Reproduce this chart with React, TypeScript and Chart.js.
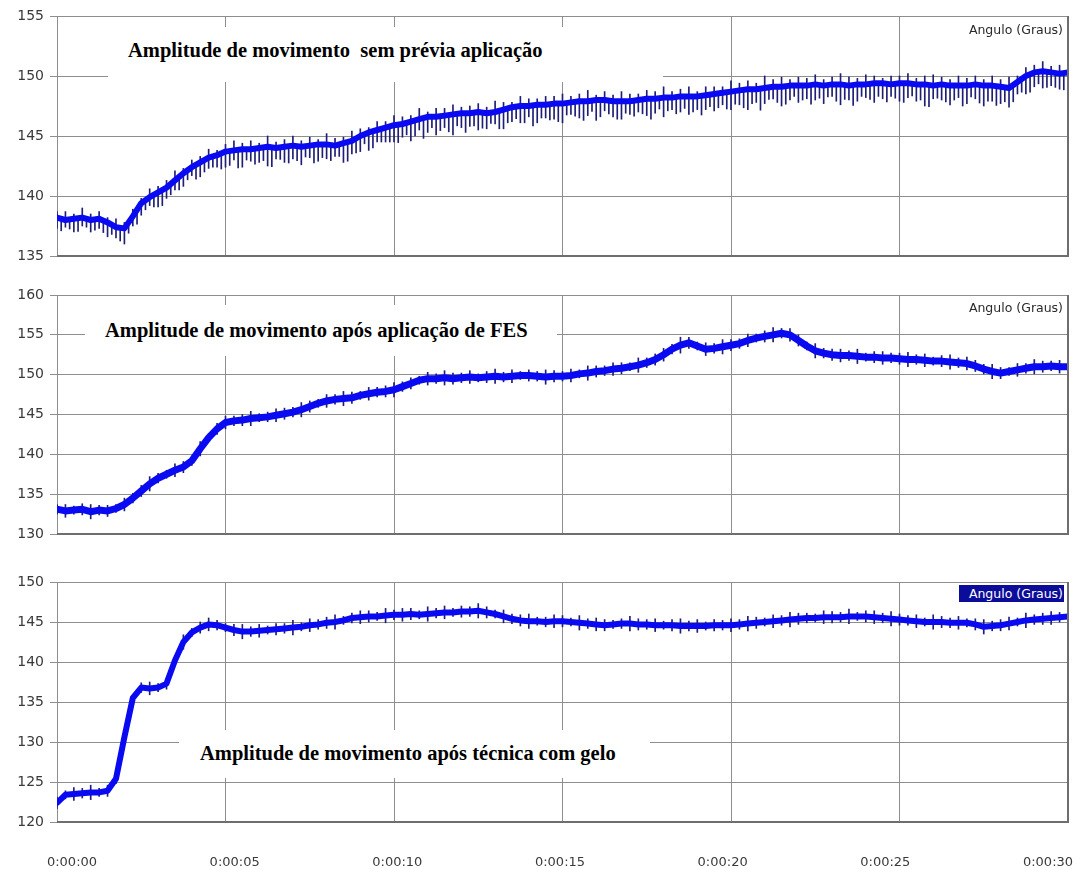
import React, { useEffect, useRef } from 'react';
import { Chart, registerables } from 'chart.js';

Chart.register(...registerables);

// ---------- data ----------
const STEP = 0.25; // seconds between samples
const xTickValues = [0, 5, 10, 15, 20, 25, 30];
const xTickLabels = ['0:00:00', '0:00:05', '0:00:10', '0:00:15', '0:00:20', '0:00:25', '0:00:30'];
const yTicks1 = [135, 140, 145, 150, 155];
const yTicks2 = [130, 135, 140, 145, 150, 155, 160];
const yTicks3 = [120, 125, 130, 135, 140, 145, 150];
const seriesLabel = 'Angulo (Graus)';
const title1 = 'Amplitude de movimento  sem prévia aplicação';
const title2 = 'Amplitude de movimento após aplicação de FES';
const title3 = 'Amplitude de movimento após técnica com gelo';

const angle1 = [
  138.2, 138.0, 138.1, 138.2, 138.0, 138.1, 137.8, 137.4, 137.3, 138.3,
  139.4, 139.9, 140.3, 140.7, 141.3, 141.9, 142.4, 142.8, 143.2, 143.4,
  143.7, 143.8, 143.9, 143.9, 144.0, 144.1, 144.0, 144.1, 144.2, 144.1,
  144.2, 144.3, 144.3, 144.2, 144.4, 144.6, 145.0, 145.3, 145.5, 145.7,
  145.9, 146.0, 146.2, 146.4, 146.6, 146.6, 146.7, 146.8, 146.9, 146.9,
  147.0, 146.9, 147.0, 147.2, 147.4, 147.5, 147.5, 147.6, 147.6, 147.7,
  147.7, 147.8, 147.9, 147.9, 148.0, 148.0, 147.9, 147.9, 147.9, 148.0,
  148.1, 148.1, 148.2, 148.2, 148.3, 148.3, 148.3, 148.4, 148.5, 148.6,
  148.7, 148.8, 148.9, 148.9, 149.0, 149.1, 149.1, 149.2, 149.2, 149.2,
  149.3, 149.2, 149.3, 149.3, 149.2, 149.3, 149.3, 149.4, 149.4, 149.3,
  149.4, 149.4, 149.3, 149.3, 149.2, 149.3, 149.2, 149.2, 149.2, 149.3,
  149.2, 149.2, 149.1, 149.0, 149.5, 150.0, 150.3, 150.4, 150.3, 150.2,
  150.3,
];
const spikeDown1 = [
  0.9, 0.6, 1.1, 0.7, 1.0, 0.8, 1.2, 0.9, 1.3, 0.8,
  1.0, 0.7, 1.2, 0.9, 0.8, 1.1, 0.7, 1.2, 0.9, 1.0,
  1.3, 0.8, 1.5, 1.0, 1.2, 1.6, 0.9, 1.3, 1.1, 1.5,
  1.0, 1.4, 1.2, 0.9, 1.6, 1.1, 1.3, 1.5, 1.0, 1.2,
  1.4, 1.1, 1.6, 0.9, 1.3, 1.5, 1.0, 1.7, 1.2, 1.1,
  1.5, 1.3, 1.0, 1.6, 1.2, 1.4, 0.9, 1.5, 1.1, 1.3,
  1.6, 1.0, 1.4, 1.2, 1.7, 0.9, 1.3, 1.5, 1.1, 1.0,
  1.4, 1.2, 1.6, 1.0, 1.3, 1.5, 1.1, 1.2, 1.4, 1.0,
  1.5, 1.2, 1.7, 1.1, 1.3, 1.0, 1.6, 1.2, 1.4, 1.1,
  1.3, 1.5, 1.0, 1.7, 1.2, 1.4, 1.1, 1.6, 1.3, 1.0,
  1.5, 1.2, 1.4, 1.8, 1.1, 1.3, 1.6, 1.0, 1.5, 1.2,
  1.7, 1.3, 1.4, 1.6, 1.0, 1.5, 1.2, 1.4, 1.1, 1.3,
  1.2,
];
const spikeUp1 = [
  0.5, 0.7, 0.4, 0.8, 0.5, 0.6, 0.4, 0.7, 0.5, 0.6,
  0.4, 0.7, 0.5, 0.6, 0.8, 0.4, 0.6, 0.5, 0.7, 0.4,
  0.6, 0.8, 0.5, 0.7, 0.4, 0.9, 0.5, 0.6, 0.8, 0.5,
  0.7, 0.4, 0.9, 0.6, 0.5, 0.8, 0.6, 0.4, 0.7, 0.5,
  0.8, 0.6, 0.5, 0.9, 0.4, 0.7, 0.6, 0.8, 0.5, 0.6,
  0.7, 0.5, 0.9, 0.6, 0.4, 0.8, 0.6, 0.5, 0.7, 0.6,
  0.8, 0.5, 0.6, 0.9, 0.4, 0.7, 0.5, 0.8, 0.6, 0.5,
  0.7, 0.6, 0.9, 0.5, 0.6, 0.8, 0.4, 0.7, 0.6, 0.5,
  0.9, 0.6, 0.7, 0.5, 1.0, 0.6, 0.8, 0.5, 0.7, 0.6,
  0.8, 0.5, 0.6, 0.9, 0.7, 0.5, 0.8, 0.6, 0.4, 0.7,
  0.6, 0.8, 0.5, 0.7, 0.9, 0.6, 0.5, 0.8, 0.6, 0.7,
  0.5, 0.8, 0.6, 0.9, 0.5, 0.7, 0.6, 0.8, 0.5, 0.7,
  0.6,
];
const spikeMid1 = [
  1.0, 0.8, 1.1, 0.7, 0.9, 1.0, 0.8, 1.1,
  0.9, 1.2, 0.8, 1.0, 1.3, 0.9, 1.1, 0.8, 1.2, 1.0, 0.9, 1.3,
  1.2, 1.5, 0.9, 1.3, 1.1, 1.6, 1.0, 1.4, 1.2, 0.9, 1.5, 1.1, 1.3, 1.0, 1.6, 1.2, 0.8, 1.4, 1.1, 1.3,
  1.5, 1.0, 1.3, 1.7, 0.9, 1.2, 1.4, 1.0, 1.6, 1.1, 1.3, 0.9, 1.5, 1.2, 1.0, 1.4, 1.7, 1.1, 1.3, 1.5,
  1.0, 1.2, 1.6, 0.9, 1.4, 1.1, 1.5, 1.0, 1.3, 1.2, 1.7, 0.9, 1.1, 1.4, 1.0, 1.3, 1.6, 1.0, 1.2, 1.4,
  1.1, 1.5, 1.2, 1.8, 1.0, 1.3, 1.5, 0.9, 1.2, 1.6, 1.1, 1.0, 1.4, 1.2, 1.7, 1.0, 1.3, 1.1, 1.5, 1.2,
  1.6, 1.0, 1.3, 1.8, 1.1, 1.4, 1.2, 1.7, 1.0, 1.5, 1.3, 1.6, 1.2, 1.4, 1.1, 1.5, 1.0, 1.3, 1.2, 1.4,
];

const angle2 = [
  133.1, 132.9, 133.0, 133.1, 132.8, 133.0, 132.9, 133.2, 133.7, 134.5,
  135.4, 136.3, 137.0, 137.5, 138.0, 138.4, 139.2, 140.7, 142.1, 143.2,
  144.0, 144.2, 144.3, 144.5, 144.6, 144.7, 144.9, 145.1, 145.3, 145.6,
  146.0, 146.4, 146.7, 146.9, 147.0, 147.1, 147.4, 147.6, 147.8, 147.9,
  148.1, 148.5, 148.9, 149.3, 149.5, 149.5, 149.6, 149.5, 149.6, 149.7,
  149.6, 149.7, 149.8, 149.7, 149.8, 149.9, 149.9, 149.8, 149.7, 149.8,
  149.8, 149.9, 150.1, 150.2, 150.4, 150.5, 150.7, 150.8, 151.0, 151.2,
  151.5, 151.9, 152.5, 153.2, 153.7, 154.0, 153.6, 153.2, 153.3, 153.5,
  153.7, 153.9, 154.3, 154.6, 154.8, 155.0, 155.2, 155.0, 154.3, 153.6,
  153.0, 152.7, 152.5, 152.4, 152.4, 152.3, 152.2, 152.2, 152.1, 152.1,
  152.0, 151.9, 151.9, 151.8, 151.7, 151.7, 151.6, 151.5, 151.4, 151.1,
  150.7, 150.4, 150.2, 150.4, 150.6, 150.8, 151.0, 151.0, 151.1, 151.0,
  151.0,
];
const noise2 = [
  0.6, 0.8, 0.5, 0.7, 0.9, 0.6, 0.7, 0.5, 0.8, 0.6,
  0.7, 0.9, 0.6, 0.5, 0.8, 0.7, 0.6, 0.9, 0.5, 0.7,
  0.8, 0.6, 0.7, 0.9, 0.5, 0.6, 0.8, 0.7, 0.6, 0.9,
  0.7, 0.5, 0.8, 0.6, 0.9, 0.7, 0.5, 0.8, 0.6, 0.7,
  0.9, 0.6, 0.7, 0.5, 0.8, 0.6, 0.9, 0.7, 0.6, 0.8,
  0.5, 0.7, 0.9, 0.6, 0.8, 0.5, 0.7, 0.6, 0.9, 0.7,
  0.6, 0.8, 0.5, 0.9, 0.7, 0.6, 0.8, 0.7, 0.5, 0.9,
  0.6, 0.7, 0.8, 0.6, 1.0, 0.7, 0.5, 0.8, 0.6, 0.9,
  0.7, 0.6, 0.8, 0.5, 0.7, 0.9, 0.6, 0.8, 0.7, 0.5,
  0.9, 0.6, 0.7, 0.8, 0.6, 0.9, 0.5, 0.7, 0.8, 0.6,
  0.7, 0.9, 0.6, 0.8, 0.5, 0.7, 0.9, 0.6, 0.8, 0.7,
  0.6, 0.9, 0.7, 0.5, 0.8, 0.6, 0.9, 0.7, 0.6, 0.8,
  0.7,
];

const angle3 = [
  122.4, 123.4, 123.5, 123.6, 123.7, 123.7, 123.9, 125.4, 130.6, 135.5,
  136.8, 136.7, 136.8, 137.3, 140.2, 142.5, 143.7, 144.3, 144.7, 144.6,
  144.3, 144.0, 143.8, 143.8, 143.9, 144.0, 144.1, 144.2, 144.3, 144.4,
  144.6, 144.7, 144.9, 145.0, 145.2, 145.5, 145.6, 145.7, 145.7, 145.8,
  145.9, 145.9, 146.0, 145.9, 146.0, 146.1, 146.2, 146.2, 146.3, 146.3,
  146.4, 146.2, 146.0, 145.7, 145.4, 145.2, 145.1, 145.1, 145.0, 145.1,
  145.1, 145.0, 144.9, 144.8, 144.7, 144.6, 144.7, 144.8, 144.8, 144.7,
  144.7, 144.6, 144.6, 144.6, 144.5, 144.5, 144.5, 144.5, 144.6, 144.6,
  144.6, 144.7, 144.8, 144.9, 145.0, 145.1, 145.2, 145.3, 145.4, 145.5,
  145.5, 145.6, 145.6, 145.6, 145.7, 145.7, 145.7, 145.6, 145.5, 145.4,
  145.3, 145.2, 145.1, 145.0, 145.0, 145.0, 144.9, 144.9, 144.9, 144.7,
  144.4, 144.5, 144.6, 144.8, 145.0, 145.2, 145.3, 145.4, 145.5, 145.6,
  145.7,
];
const noise3 = [
  0.7, 0.5, 0.8, 0.6, 0.9, 0.5, 0.7, 0.6, 0.5, 0.4,
  0.6, 0.8, 0.5, 0.7, 0.6, 0.9, 0.5, 0.7, 0.8, 0.6,
  0.5, 0.7, 0.9, 0.6, 0.8, 0.5, 0.7, 0.6, 0.9, 0.5,
  0.8, 0.6, 0.7, 0.9, 0.5, 0.6, 0.8, 0.7, 0.5, 0.9,
  0.6, 0.8, 0.7, 0.5, 0.9, 0.6, 0.8, 0.5, 0.7, 0.6,
  0.9, 0.7, 0.5, 0.8, 0.6, 0.7, 0.9, 0.5, 0.6, 0.8,
  0.7, 0.5, 0.9, 0.6, 0.8, 0.7, 0.5, 0.6, 0.9, 0.7,
  0.6, 0.8, 0.5, 0.7, 0.9, 0.6, 0.8, 0.5, 0.7, 0.6,
  0.8, 0.6, 0.9, 0.7, 0.5, 0.8, 0.6, 0.9, 0.7, 0.6,
  0.5, 0.8, 0.7, 0.6, 0.9, 0.5, 0.7, 0.8, 0.6, 0.9,
  0.7, 0.6, 0.8, 0.5, 0.9, 0.7, 0.6, 0.8, 0.5, 0.7,
  0.9, 0.6, 0.7, 0.8, 0.5, 0.9, 0.6, 0.7, 0.8, 0.6,
  0.7,
];

// ---------- styles ----------
const BAND = '#0a0af2';
const SPIKE = '#1e1e74';
const GRID = '#8e8e8e';
const FRAME = '#6e6e6e';
const Y_TICK_FONT = { family: '"DejaVu Sans", sans-serif', size: 14 };
const X_TICK_FONT = { family: '"DejaVu Sans", sans-serif', size: 13 };
const TICK_COLOR = '#3a3a3a';
const W = 1078;

const framePlugin = {
  id: 'frame',
  afterDraw(chart: any) {
    const { ctx, chartArea } = chart;
    const { left, right, top, bottom } = chartArea;
    ctx.save();
    ctx.strokeStyle = FRAME;
    ctx.lineWidth = 2;
    ctx.beginPath();
    ctx.moveTo(right, top);
    ctx.lineTo(right, bottom);
    ctx.lineTo(left, bottom);
    ctx.stroke();
    ctx.restore();
  },
};

function lineDataset(values: number[], width: number) {
  return {
    type: 'line',
    label: seriesLabel,
    data: values.map((v, i) => ({ x: i * STEP, y: v })),
    borderColor: BAND,
    backgroundColor: BAND,
    borderWidth: width,
    pointRadius: 0,
    tension: 0,
    borderJoinStyle: 'round',
    borderCapStyle: 'round',
    order: 0,
  };
}

function barDataset(data: any[]) {
  return {
    type: 'bar',
    data,
    backgroundColor: SPIKE,
    borderWidth: 0,
    barThickness: 1,
    grouped: false,
    order: 1,
  };
}

function yAxis(ticks: number[]) {
  return {
    type: 'linear',
    position: 'left',
    min: ticks[0],
    max: ticks[ticks.length - 1],
    afterBuildTicks: (s: any) => {
      s.ticks = ticks.map((v) => ({ value: v }));
    },
    afterFit: (s: any) => {
      s.width = 57;
      s.paddingTop = 0;
      s.paddingBottom = 0;
    },
    grid: { color: GRID, lineWidth: 1, tickLength: 7, drawTicks: true },
    border: { display: true, color: GRID, width: 1 },
    ticks: { font: Y_TICK_FONT, color: TICK_COLOR, padding: 6 },
  };
}

function xAxis(height: number) {
  return {
    type: 'linear',
    position: 'bottom',
    min: 0,
    max: 30,
    offset: false,
    afterBuildTicks: (s: any) => {
      s.ticks = xTickValues.map((v) => ({ value: v }));
    },
    afterFit: (s: any) => {
      s.height = height;
      s.paddingLeft = 0;
      s.paddingRight = 0;
    },
    grid: { color: GRID, lineWidth: 1, drawTicks: false, offset: false },
    border: { display: true, color: GRID, width: 1 },
    ticks: { display: false },
  };
}

function baseOptions(top: number, scales: any) {
  return {
    responsive: false,
    animation: false,
    events: [],
    layout: { padding: { top, right: 10, left: 0, bottom: 0 } },
    plugins: { legend: { display: false }, tooltip: { enabled: false }, title: { display: false } },
    scales,
  };
}

function useChart(ref: React.RefObject<HTMLCanvasElement>, make: () => any) {
  useEffect(() => {
    if (!ref.current) return;
    const chart = new Chart(ref.current, make());
    return () => chart.destroy();
  }, []);
}

export default function App() {
  const c1 = useRef<HTMLCanvasElement>(null);
  const c2 = useRef<HTMLCanvasElement>(null);
  const c3 = useRef<HTMLCanvasElement>(null);

  useChart(c1, () => ({
    type: 'line',
    data: {
      datasets: [
        lineDataset(angle1, 6),
        barDataset(angle1.map((v, i) => ({ x: i * STEP, y: [v - spikeDown1[i], v + spikeUp1[i]] }))),
        barDataset(
          spikeMid1.map((d, k) => {
            const c = (angle1[k] + angle1[k + 1]) / 2;
            return { x: (k + 0.5) * STEP, y: [c - d, c] };
          })
        ),
      ],
    },
    options: baseOptions(16, { x: xAxis(14), y: yAxis(yTicks1) }),
    plugins: [framePlugin],
  }));

  useChart(c2, () => ({
    type: 'line',
    data: {
      datasets: [
        lineDataset(angle2, 7),
        barDataset(angle2.map((v, i) => ({ x: i * STEP, y: [v - noise2[i], v + noise2[i]] }))),
      ],
    },
    options: baseOptions(25, { x: xAxis(16), y: yAxis(yTicks2) }),
    plugins: [framePlugin],
  }));

  useChart(c3, () => ({
    type: 'line',
    data: {
      datasets: [
        lineDataset(angle3, 6),
        barDataset(angle3.map((v, i) => ({ x: i * STEP, y: [v - noise3[i], v + noise3[i]] }))),
      ],
    },
    options: baseOptions(32, {
      x: xAxis(0),
      x2: {
        type: 'linear',
        position: 'bottom',
        min: -0.461,
        max: 30.615,
        offset: false,
        afterBuildTicks: (s: any) => {
          s.ticks = xTickValues.map((v) => ({ value: v }));
        },
        afterFit: (s: any) => {
          s.height = 47;
          s.paddingLeft = 0;
          s.paddingRight = 0;
        },
        grid: { display: false, drawTicks: true, tickLength: 30 },
        border: { display: false },
        ticks: {
          font: X_TICK_FONT,
          color: TICK_COLOR,
          padding: 3,
          maxRotation: 0,
          autoSkip: false,
          callback: (_v: any, i: number) => xTickLabels[i],
        },
      },
      y: yAxis(yTicks3),
    }),
    plugins: [framePlugin],
  }));

  const canvasStyle = (top: number, h: number): React.CSSProperties => ({
    position: 'absolute',
    left: 0,
    top,
    width: W,
    height: h,
    display: 'block',
  });

  const titleStyle = (left: number, baseline: number): React.CSSProperties => ({
    position: 'absolute',
    left,
    top: baseline - 17.2,
    font: 'bold 20.5px "Liberation Serif", "Times New Roman", serif',
    lineHeight: '20.5px',
    whiteSpace: 'pre',
    color: '#000',
  });

  const box = (left: number, top: number, width: number, height: number): React.CSSProperties => ({
    position: 'absolute',
    left,
    top,
    width,
    height,
    background: '#fff',
  });

  const seriesStyle = (centerY: number): React.CSSProperties => ({
    position: 'absolute',
    right: W - 1063,
    top: centerY - 7,
    font: '12.5px "DejaVu Sans", sans-serif',
    lineHeight: '14px',
    whiteSpace: 'pre',
    color: '#2a2a2a',
  });

  return (
    <div
      style={{
        position: 'absolute',
        left: 0,
        top: 0,
        width: W,
        height: 869,
        background: '#fff',
        overflow: 'hidden',
      }}
    >
      <canvas ref={c1} width={W} height={270} style={canvasStyle(0, 270)} />
      <canvas ref={c2} width={W} height={280} style={canvasStyle(270, 280)} />
      <canvas ref={c3} width={W} height={319} style={canvasStyle(550, 319)} />

      <div style={box(108, 27, 555, 55)} />
      <div style={titleStyle(128, 56.7)}>{title1}</div>
      <div style={box(85, 305, 472, 51)} />
      <div style={titleStyle(105, 337)}>{title2}</div>
      <div style={box(179, 730, 471, 48)} />
      <div style={titleStyle(200, 760)}>{title3}</div>

      <div style={seriesStyle(30)}>{seriesLabel}</div>
      <div style={seriesStyle(307.5)}>{seriesLabel}</div>
      <div
        style={{
          position: 'absolute',
          left: 959,
          top: 585,
          width: 105,
          height: 17,
          background: '#0c0c9a',
        }}
      />
      <div style={{ ...seriesStyle(593.5), color: '#fff' }}>{seriesLabel}</div>
    </div>
  );
}
